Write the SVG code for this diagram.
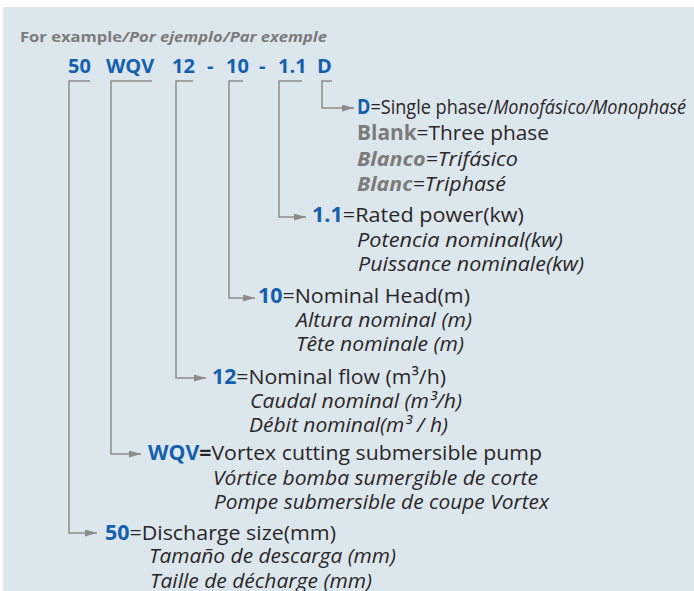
<svg xmlns="http://www.w3.org/2000/svg" width="694" height="591" viewBox="0 0 694 591">
<style>
text{font-family:"Open Sans","Noto Sans",sans-serif;fill:#2a2627;font-size:20.5px}
.it{font-style:italic;font-size:20px}
.b{font-weight:bold;fill:#1560ad}
.g{font-weight:bold;fill:#7b7b7b}
.i{font-style:italic}
.code{font-size:20px;font-weight:bold;fill:#1560ad}
.hd{font-size:15px;font-weight:bold;fill:#7b7b7b}
.conn{fill:none;stroke:#8c8c8c;stroke-width:1.5}
</style>
<defs>
<marker id="ah" markerUnits="userSpaceOnUse" markerWidth="13" markerHeight="8" refX="12" refY="3.5" orient="auto">
<path d="M0,0 L12,3.5 L0,7 Z" fill="#8c8c8c"/>
</marker>
</defs>
<rect x="0" y="0" width="694" height="591" fill="#ffffff"/>
<rect x="3" y="7" width="691" height="584" fill="#dce6ed"/>

<g id="header">
<text class="hd" x="20" y="42" textLength="307" lengthAdjust="spacingAndGlyphs">For example<tspan class="i">/Por ejemplo/Par exemple</tspan></text>
</g>
<g id="code">
<text class="code" x="68" y="73">50</text>
<text class="code" x="106" y="73">WQV</text>
<text class="code" x="172" y="73">12</text>
<text class="code" x="207" y="73">-</text>
<text class="code" x="226" y="73">10</text>
<text class="code" x="259" y="73">-</text>
<text class="code" x="278" y="73">1.1</text>
<text class="code" x="317" y="73">D</text>
</g>

<g id="connectors">
<path class="conn" d="M90,81 H69 V533 H97" marker-end="url(#ah)"/>
<path class="conn" d="M152,81 H111 V454 H141" marker-end="url(#ah)"/>
<path class="conn" d="M193,81 H176 V378 H206" marker-end="url(#ah)"/>
<path class="conn" d="M243,81 H229 V298 H255" marker-end="url(#ah)"/>
<path class="conn" d="M302,81 H279 V217 H306" marker-end="url(#ah)"/>
<path class="conn" d="M332,81 H322 V108 H354" marker-end="url(#ah)"/>
</g>

<g id="node-d">
<text x="357" y="114" font-size="18" textLength="329" lengthAdjust="spacingAndGlyphs"><tspan class="b">D</tspan>=Single phase/<tspan class="i">Monofásico/Monophasé</tspan></text>
<text x="357" y="140" textLength="192" lengthAdjust="spacingAndGlyphs"><tspan class="g">Blank</tspan>=Three phase</text>
<text class="it" x="357" y="166" textLength="161" lengthAdjust="spacingAndGlyphs"><tspan class="g">Blanco</tspan>=Trifásico</text>
<text class="it" x="357" y="191" textLength="149" lengthAdjust="spacingAndGlyphs"><tspan class="g">Blanc</tspan>=Triphasé</text>
</g>
<g id="node-1-1">
<text x="312" y="222" textLength="212" lengthAdjust="spacingAndGlyphs"><tspan class="b">1.1</tspan>=Rated power(kw)</text>
<text class="it" x="357" y="247" textLength="206" lengthAdjust="spacingAndGlyphs">Potencia nominal(kw)</text>
<text class="it" x="358" y="271" textLength="226" lengthAdjust="spacingAndGlyphs">Puissance nominale(kw)</text>
</g>
<g id="node-10">
<text x="258" y="303" textLength="212" lengthAdjust="spacingAndGlyphs"><tspan class="b">10</tspan>=Nominal Head(m)</text>
<text class="it" x="296" y="327" textLength="176" lengthAdjust="spacingAndGlyphs">Altura nominal (m)</text>
<text class="it" x="296" y="351" textLength="168" lengthAdjust="spacingAndGlyphs">Tête nominale (m)</text>
</g>
<g id="node-12">
<text x="212" y="384" textLength="234" lengthAdjust="spacingAndGlyphs"><tspan class="b">12</tspan>=Nominal flow (m³/h)</text>
<text class="it" x="250" y="408" textLength="212" lengthAdjust="spacingAndGlyphs">Caudal nominal (m³/h)</text>
<text class="it" x="249" y="432" textLength="199" lengthAdjust="spacingAndGlyphs">Débit nominal(m³ / h)</text>
</g>
<g id="node-wqv">
<text x="148" y="460" textLength="394" lengthAdjust="spacingAndGlyphs"><tspan class="b">WQV</tspan><tspan font-weight="bold">=</tspan>Vortex cutting submersible pump</text>
<text class="it" x="213" y="485" textLength="325" lengthAdjust="spacingAndGlyphs">Vórtice bomba sumergible de corte</text>
<text class="it" x="214" y="509" textLength="335" lengthAdjust="spacingAndGlyphs">Pompe submersible de coupe Vortex</text>
</g>
<g id="node-50">
<text x="105" y="540" textLength="231" lengthAdjust="spacingAndGlyphs"><tspan class="b">50</tspan>=Discharge size(mm)</text>
<text class="it" x="149" y="563" textLength="247" lengthAdjust="spacingAndGlyphs">Tamaño de descarga (mm)</text>
<text class="it" x="150" y="588" textLength="222" lengthAdjust="spacingAndGlyphs">Taille de décharge (mm)</text>
</g>
</svg>
